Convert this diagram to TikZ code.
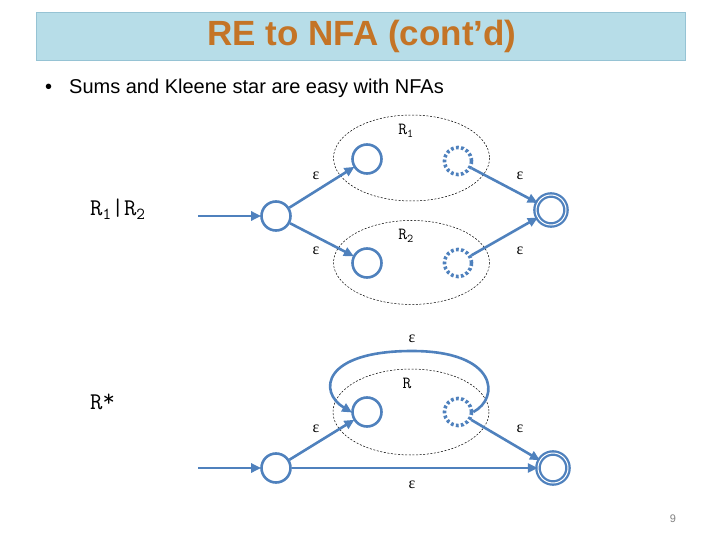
\documentclass[tikz,border=0pt]{standalone}
\usepackage{fontspec}
\setmainfont{Liberation Sans}
\newfontfamily\epsfont{Liberation Serif}
\usetikzlibrary{arrows.meta}
\definecolor{stblue}{RGB}{79,129,189}
\definecolor{titlefill}{RGB}{183,221,232}
\definecolor{titleline}{RGB}{150,195,212}
\definecolor{titletext}{RGB}{196,116,38}
\tikzset{
  state/.style={circle,draw=stblue,line width=2.6pt,minimum size=29pt,inner sep=0pt},
  dotstate/.style={circle,draw=stblue,line width=3.6pt,minimum size=27pt,inner sep=0pt,dash pattern=on 2.8pt off 2.3pt},
  finalstate/.style={circle,draw=stblue,line width=2.3pt,double=white,double distance=1pt,minimum size=30pt,inner sep=0pt},
  edge/.style={draw=stblue,line width=2.6pt,-{Triangle[length=10pt,width=9pt]},shorten >=-1pt},
  blob/.style={draw=black,line width=0.5pt,dash pattern=on 2pt off 1.6pt},
  eps/.style={font=\epsfont\fontsize{16}{16}\selectfont,inner sep=0pt},
  rlab/.style={font=\ttfamily\fontsize{17}{17}\selectfont,inner sep=0pt},
  biglab/.style={font=\ttfamily\fontsize{24}{24}\selectfont,inner sep=0pt,anchor=west},
}
\begin{document}
\begin{tikzpicture}[x=1pt,y=-1pt]
\useasboundingbox (0,0) rectangle (720,540);
% title
\node[draw=titleline,fill=titlefill,line width=0.8pt,minimum width=649pt,minimum height=48pt,inner sep=0pt] (titlebox) at (360.5,36) {};
\node[text=titletext,font=\fontsize{35}{40}\selectfont\bfseries] (title) at (362,36) {RE to NFA (cont’d)};
\node[anchor=west,font=\fontsize{20}{24}\selectfont,inner sep=0pt] (bullet) at (45,88) {•\hspace{17pt}Sums and Kleene star are easy with NFAs};
% ---------- R1 | R2 ----------
\node[biglab] (lab1) at (90,209) {R\textsubscript{1}|R\textsubscript{2}};
\draw[blob] (411.5,158) ellipse [x radius=78, y radius=43];
\draw[blob] (411.5,262.5) ellipse [x radius=78, y radius=42];
\node[rlab] (r1) at (406,131) {R\textsubscript{1}};
\node[rlab] (r2) at (406,236) {R\textsubscript{2}};
\coordinate (in1) at (198,216);
\node[state] (s1) at (276,216) {};
\node[state] (a1) at (367,159) {};
\node[dotstate] (b1) at (458,161) {};
\node[state] (a2) at (367,263) {};
\node[dotstate] (b2) at (458,263) {};
\node[finalstate] (f1) at (551,210) {};
\draw[edge] (in1) -- (s1);
\draw[edge] (s1) -- (a1);
\draw[edge] (s1) -- (a2);
\draw[edge] (b1) -- (f1);
\draw[edge] (b2) -- (f1);
\node[eps] (e1) at (316,176) {ε};
\node[eps] (e2) at (520,176) {ε};
\node[eps] (e3) at (316,251) {ε};
\node[eps] (e4) at (520,251) {ε};
% ---------- R* ----------
\node[biglab] (lab2) at (90,402) {R\raisebox{0.35ex}{*}};
\draw[blob] (411,412) ellipse [x radius=78, y radius=43];
\node[rlab] (r3) at (407,383) {R};
\coordinate (in2) at (198,468);
\node[state] (s2) at (276,468) {};
\node[state] (a3) at (367,412) {};
\node[dotstate] (b3) at (458,412) {};
\node[finalstate] (f2) at (553,468) {};
\draw[edge] (in2) -- (s2);
\draw[edge] (s2) -- (a3);
\draw[edge] (b3) -- (f2);
\draw[edge] (s2) -- (f2);
\draw[edge] (b3.east) .. controls (500,398) and (498,351) .. (412,351) .. controls (322,351) and (318,392) .. (a3.west);
\node[eps] (e5) at (412,339) {ε};
\node[eps] (e6) at (316,429) {ε};
\node[eps] (e7) at (520,429) {ε};
\node[eps] (e8) at (412,485) {ε};
% page number
\node[text=gray,font=\fontsize{11}{11}\selectfont] (pg) at (673,519) {9};
\end{tikzpicture}
\end{document}
